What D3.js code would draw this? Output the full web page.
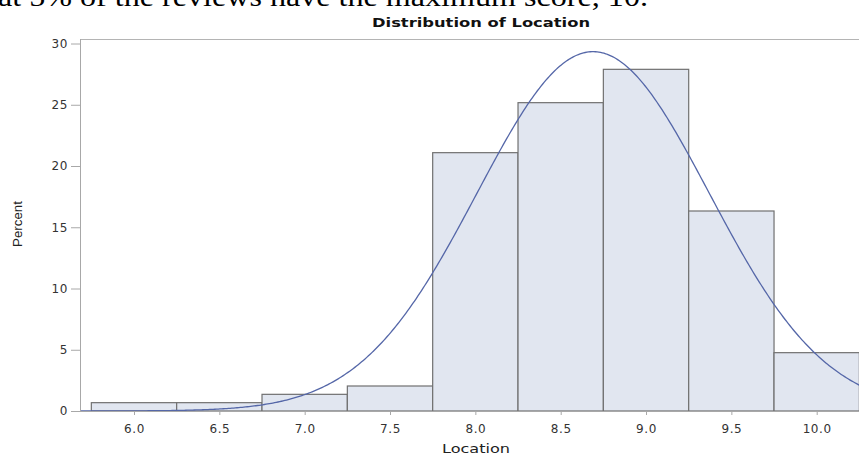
<!DOCTYPE html>
<html>
<head>
<meta charset="utf-8">
<script src="https://cdn.jsdelivr.net/npm/d3@7"></script>
<style>
  html, body { margin: 0; padding: 0; background: #fff; }
  svg { display: block; }
</style>
</head>
<body>
<svg id="chart" width="859" height="455"></svg>
<script>
// Histogram of review "Location" scores (bin width 0.5), with a fitted normal curve
const binMidpoints = [6.0, 6.5, 7.0, 7.5, 8.0, 8.5, 9.0, 9.5, 10.0];
const binCounts    = [1, 1, 2, 3, 31, 37, 41, 24, 7];
const totalCount   = 147;
const binWidth     = 0.5;
const xTicks = [6.0, 6.5, 7.0, 7.5, 8.0, 8.5, 9.0, 9.5, 10.0];
const yTicks = [0, 5, 10, 15, 20, 25, 30];
const fitMean = 8.69;
const fitStd  = 0.68;

const percents = binCounts.map(c => c / totalCount * 100);

const svg = d3.select("#chart");
const W = 859, H = 455;
const plot = { left: 80, top: 39, right: 890, bottom: 411 };

const x = d3.scaleLinear().domain([6, 10]).range([134, 816.7]);
const y = d3.scaleLinear().domain([0, 30]).range([411, 43.5]);

// Note text above the chart (runs past the top edge)
svg.append("text")
  .attr("x", -2).attr("y", 6)
  .attr("textLength", 650).attr("lengthAdjust", "spacingAndGlyphs")
  .style("font-family", "'Liberation Serif', 'Times New Roman', serif")
  .style("font-size", "27px")
  .attr("fill", "#000")
  .text("at 5% of the reviews have the maximum score, 10.");

// Title
svg.append("text")
  .attr("x", 481).attr("y", 27)
  .attr("text-anchor", "middle")
  .attr("textLength", 218).attr("lengthAdjust", "spacingAndGlyphs")
  .style("font-family", "'DejaVu Sans', sans-serif")
  .style("font-size", "12px").style("font-weight", "bold")
  .attr("fill", "#111")
  .text("Distribution of Location");

// Frame (top edge)
svg.append("line")
  .attr("x1", plot.left).attr("x2", plot.right)
  .attr("y1", plot.top + 0.5).attr("y2", plot.top + 0.5)
  .attr("stroke", "#b4b4b4").attr("stroke-width", 1);

// Bars
svg.append("g").selectAll("rect")
  .data(binMidpoints.map((m, i) => ({ m, p: percents[i] })))
  .join("rect")
  .attr("x", d => x(d.m - binWidth / 2))
  .attr("width", d => x(d.m + binWidth / 2) - x(d.m - binWidth / 2))
  .attr("y", d => y(d.p))
  .attr("height", d => y(0) - y(d.p))
  .attr("fill", "#e1e6f0")
  .attr("stroke", "#707070")
  .attr("stroke-width", 1.2);

// Normal density curve, scaled to percent per bin
const normalPct = v => 100 * binWidth *
  Math.exp(-0.5 * Math.pow((v - fitMean) / fitStd, 2)) / (fitStd * Math.sqrt(2 * Math.PI));
const curveX = d3.range(x.invert(plot.left), x.invert(W + 5), 0.01);
svg.append("path")
  .datum(curveX)
  .attr("d", d3.line().x(v => x(v)).y(v => y(normalPct(v))))
  .attr("fill", "none")
  .attr("stroke", "#5567a8")
  .attr("stroke-width", 1.3);

const tickFont = sel => sel
  .style("font-family", "'DejaVu Sans', sans-serif").style("font-size", "12px")
  .style("letter-spacing", "0.6px")
  .attr("fill", "#333");

// Y axis
const yAxis = svg.append("g")
  .attr("transform", `translate(${plot.left},0)`)
  .call(d3.axisLeft(y).tickValues(yTicks).tickSize(9).tickPadding(3).tickSizeOuter(0));
yAxis.select(".domain").attr("stroke", "#a8a8a8").attr("d", `M0.5,${plot.top}V${plot.bottom}`);
yAxis.selectAll(".tick line").attr("stroke", "#a8a8a8");
yAxis.selectAll(".tick text").call(tickFont);

// X axis
const xAxis = svg.append("g")
  .attr("transform", `translate(0,${plot.bottom})`)
  .call(d3.axisBottom(x).tickValues(xTicks).tickFormat(d3.format(".1f")).tickSize(4).tickPadding(9).tickSizeOuter(0));
xAxis.select(".domain").attr("stroke", "#a8a8a8").attr("d", `M${plot.left},0.5H${plot.right}`);
xAxis.selectAll(".tick line").attr("stroke", "#a8a8a8");
xAxis.selectAll(".tick text").call(tickFont);

// Axis labels
svg.append("text")
  .attr("x", 476).attr("y", 453)
  .attr("text-anchor", "middle")
  .attr("textLength", 68).attr("lengthAdjust", "spacingAndGlyphs")
  .style("font-family", "'DejaVu Sans', sans-serif").style("font-size", "12px")
  .attr("fill", "#222")
  .text("Location");

svg.append("text")
  .attr("transform", `translate(22,224) rotate(-90)`)
  .attr("text-anchor", "middle")
  .attr("textLength", 46).attr("lengthAdjust", "spacingAndGlyphs")
  .style("font-family", "'Liberation Sans Narrow', 'Liberation Sans', sans-serif").style("font-size", "13px")
  .attr("fill", "#222")
  .text("Percent");
</script>
</body>
</html>
